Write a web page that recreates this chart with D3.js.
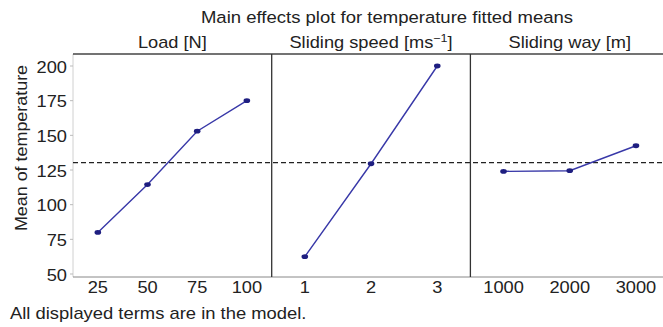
<!DOCTYPE html>
<html>
<head>
<meta charset="utf-8">
<script src="https://cdn.jsdelivr.net/npm/d3@7"></script>
<style>
  body { margin: 0; background: #fff; }
  svg { font-family: "Liberation Sans", Arial, sans-serif; }
</style>
</head>
<body>
<div id="chart"></div>
<script>
// factors and their fitted means
const factors = ["Load [N]", "Sliding speed [ms", "Sliding way [m]"];
const loadLevels = ["25", "50", "75", "100"];
const loadMeans = [80, 114.5, 153, 175];
const speedLevels = ["1", "2", "3"];
const speedMeans = [62.5, 129.5, 200];
const wayLevels = ["1000", "2000", "3000"];
const wayMeans = [124, 124.5, 142.5];
const grandMean = 130.3;
const yTicks = [50, 75, 100, 125, 150, 175, 200];

const panels = [
  { name: factors[0], levels: loadLevels, means: loadMeans },
  { name: factors[1], levels: speedLevels, means: speedMeans, sup: "\u22121", close: "]" },
  { name: factors[2], levels: wayLevels, means: wayMeans }
];

const width = 663, height = 327;
const margin = { top: 54, bottom: 277, left: 73 };
const panelW = 198.7;
const stretch = 1.14; // the source font is a bit wider than Arial

const svg = d3.select("#chart").append("svg")
  .attr("width", width)
  .attr("height", height);

const y = d3.scaleLinear()
  .domain([200, 50])
  .range([66, 274]);

// text placed at (x,y), widened horizontally
function label(x, yy, size, anchor, s, rot) {
  return svg.append("text")
    .attr("transform", `translate(${x},${yy})` + (rot ? ` rotate(${rot})` : "") + ` scale(${s},1)`)
    .attr("text-anchor", anchor)
    .attr("font-size", size)
    .attr("fill", "#222");
}

// title
label(387, 23, 17, "middle", 1.09)
  .text("Main effects plot for temperature fitted means");

// y axis
svg.append("line")
  .attr("x1", margin.left).attr("x2", margin.left)
  .attr("y1", margin.top).attr("y2", margin.bottom)
  .attr("stroke", "#d0d0d0");

svg.selectAll("line.ytick")
  .data(yTicks)
  .enter().append("line")
  .attr("class", "ytick")
  .attr("x1", margin.left - 3).attr("x2", margin.left)
  .attr("y1", d => y(d)).attr("y2", d => y(d))
  .attr("stroke", "#bbb");

yTicks.forEach(d => {
  label(margin.left - 6, y(d) + 6.5, 16, "end", stretch).text(d);
});

label(27, 148, 16, "middle", 1.12, -90).text("Mean of temperature");

// top and bottom lines
svg.append("line")
  .attr("x1", margin.left).attr("x2", width)
  .attr("y1", margin.top).attr("y2", margin.top)
  .attr("stroke", "#444").attr("stroke-width", 1.3);
svg.append("line")
  .attr("x1", margin.left).attr("x2", width)
  .attr("y1", margin.bottom).attr("y2", margin.bottom)
  .attr("stroke", "#888");

// grand mean
svg.append("line")
  .attr("x1", margin.left).attr("x2", width)
  .attr("y1", y(grandMean)).attr("y2", y(grandMean))
  .attr("stroke", "#222")
  .attr("stroke-width", 1.3)
  .attr("stroke-dasharray", "5,3");

const line = d3.line();

panels.forEach((p, i) => {
  const x0 = margin.left + i * panelW;
  const x = d3.scalePoint()
    .domain(p.levels)
    .range([x0, x0 + panelW])
    .padding(0.5);

  if (i > 0) {
    svg.append("line")
      .attr("x1", x0).attr("x2", x0)
      .attr("y1", margin.top).attr("y2", margin.bottom)
      .attr("stroke", "#333").attr("stroke-width", 1.3);
  }

  // panel header
  const head = label(x0 + panelW / 2, 48, 16, "middle", stretch);
  head.append("tspan").text(p.name);
  if (p.sup) {
    head.append("tspan").attr("font-size", 11).attr("dy", -6).text(p.sup);
    head.append("tspan").attr("dy", 6).text(p.close);
  }

  // x tick labels
  p.levels.forEach(l => {
    label(x(l), 293, 16, "middle", stretch).text(l);
  });

  const pts = p.levels.map((l, j) => [x(l), y(p.means[j])]);

  svg.append("path")
    .attr("d", line(pts))
    .attr("fill", "none")
    .attr("stroke", "#3838a8")
    .attr("stroke-width", 1.4);

  svg.selectAll("ellipse.pt" + i)
    .data(pts)
    .enter().append("ellipse")
    .attr("cx", d => d[0])
    .attr("cy", d => d[1])
    .attr("rx", 3.3)
    .attr("ry", 2.4)
    .attr("fill", "#1e1e80");
});

label(10, 319, 16, "start", 1.15).text("All displayed terms are in the model.");
</script>
</body>
</html>
